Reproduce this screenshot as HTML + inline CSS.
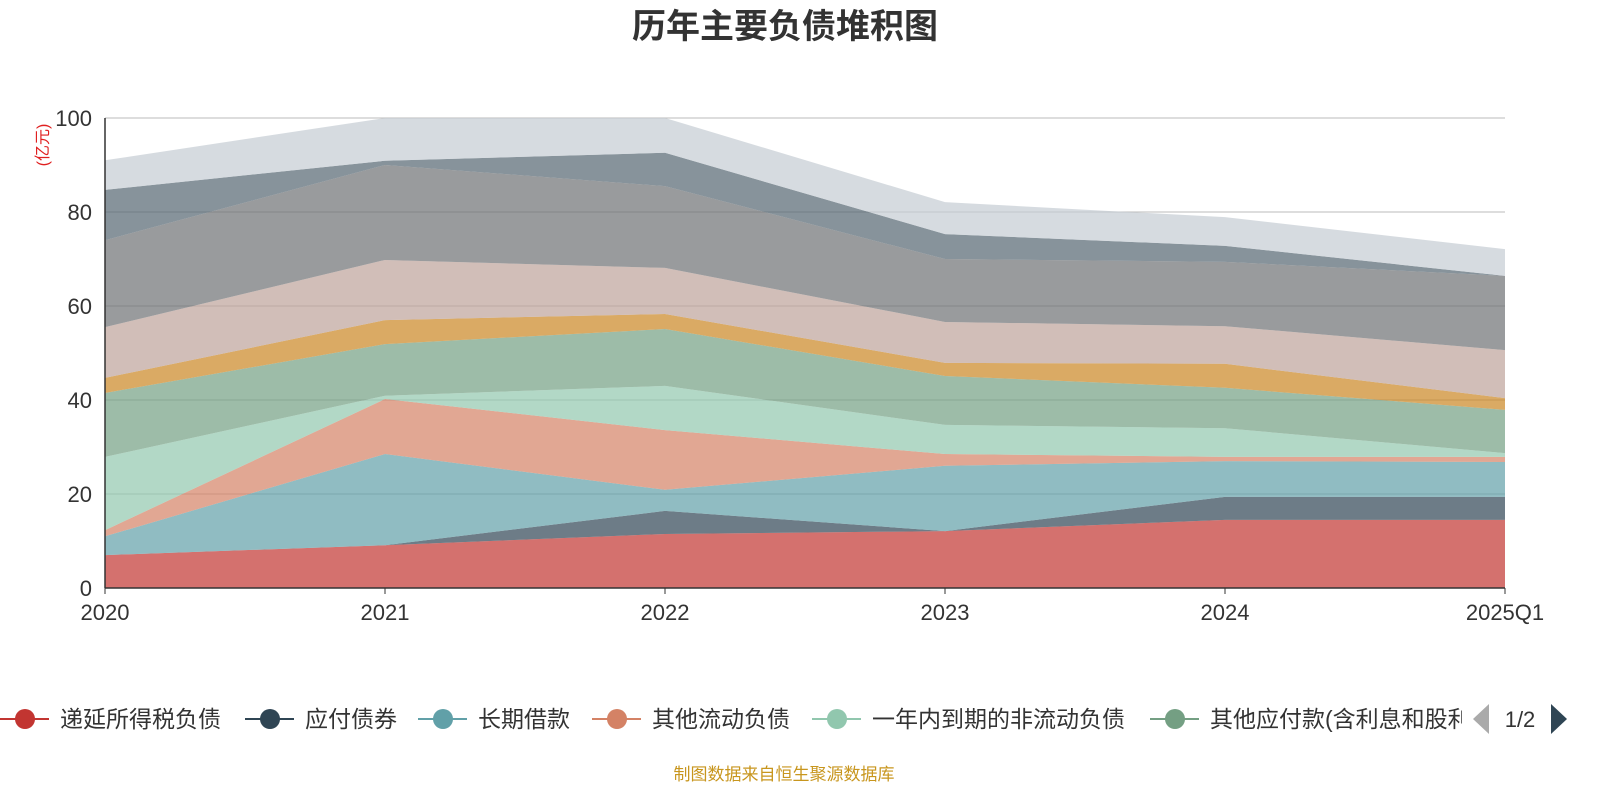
<!DOCTYPE html>
<html><head><meta charset="utf-8"><style>
body{margin:0;background:#fff;width:1600px;height:800px;overflow:hidden;font-family:"Liberation Sans","Noto Sans CJK SC",sans-serif}
</style></head><body>
<svg id="c" width="1600" height="800" xmlns="http://www.w3.org/2000/svg">
<defs><clipPath id="lc"><rect x="0" y="690" width="1462" height="60"/></clipPath></defs>
<text x="785" y="38" text-anchor="middle" font-size="34" font-weight="bold" fill="#333" font-family="Liberation Sans,Noto Sans CJK SC,sans-serif">历年主要负债堆积图</text>
<text transform="translate(48,145) rotate(-90)" text-anchor="middle" font-size="16" fill="#e02020" font-family="Liberation Sans,Noto Sans CJK SC,sans-serif">(亿元)</text>
<g id="grid"></g><g id="areas"></g><g id="axes"></g><g id="legend"></g>
<text x="784" y="780" text-anchor="middle" font-size="17" fill="#c8961e" font-family="Liberation Sans,Noto Sans CJK SC,sans-serif">制图数据来自恒生聚源数据库</text>
</svg>
<script>
const categories=["2020","2021","2022","2023","2024","2025Q1"];
const yTicks=[0,20,40,60,80,100];
const seriesNames=["递延所得税负债","应付债券","长期借款","其他流动负债","一年内到期的非流动负债","其他应付款(含利息和股利)","应付票据","应付账款","短期借款","租赁负债","其他非流动负债"];
const s0=[7.0,9.1,11.5,12.1,14.5,14.5];
const s1=[0,0,4.9,0,4.9,4.9];
const s2=[4.0,19.4,4.5,13.9,7.6,7.4];
const s3=[1.3,11.7,12.7,2.5,0.9,1.1];
const s4=[15.6,0.7,9.4,6.2,6.1,0.8];
const s5=[13.6,11.0,12.1,10.4,8.6,9.2];
const s6=[3.2,5.1,3.2,2.8,5.1,2.5];
const s7=[10.8,12.8,9.8,8.7,8.0,10.2];
const s8=[18.5,20.2,17.4,13.4,13.7,15.8];
const s9=[10.7,0.9,7.1,5.3,3.4,0];
const s10=[6.3,9.1,7.4,6.8,6.1,5.7];
const series=[s0,s1,s2,s3,s4,s5,s6,s7,s8,s9,s10];
const colors=["#c23531","#2f4554","#61a0a8","#d48265","#91c7ae","#749f83","#ca8622","#bda29a","#6e7074","#546570","#c4ccd3"];
const NS="http://www.w3.org/2000/svg";
const X=i=>105+i*(1400/(categories.length-1));
const Y=v=>588-v*4.7;
function mk(t,a,p){const e=document.createElementNS(NS,t);for(const k in a)e.setAttribute(k,a[k]);p.appendChild(e);return e;}
const grid=document.getElementById('grid'),areas=document.getElementById('areas'),axes=document.getElementById('axes'),leg=document.getElementById('legend');
yTicks.forEach(t=>{
 if(t>0){const l=mk('line',{x1:105,x2:1505,y1:Y(t),y2:Y(t),stroke:'#bbb','stroke-width':1},grid);
 
 }
 const tx=mk('text',{x:92,y:Y(t)+8,'text-anchor':'end','font-size':22,fill:'#333'},axes);tx.textContent=t;
 
 
});
let cum=categories.map(()=>0);
series.forEach((s,k)=>{
 const lo=cum.slice();cum=cum.map((c,i)=>c+s[i]);
 let d='M'+cum.map((v,i)=>X(i)+','+Y(v)).join('L');
 for(let i=lo.length-1;i>=0;i--)d+='L'+X(i)+','+Y(lo[i]);
 const p=mk('path',{d:d+'Z',fill:colors[k],'fill-opacity':0.7,stroke:'none'},areas);
 
 
});
const ax=mk('line',{x1:105,x2:1505,y1:588,y2:588,stroke:'#333','stroke-width':1.5},axes);


const ay=mk('line',{x1:105,x2:105,y1:118,y2:588,stroke:'#333','stroke-width':1.5},axes);


categories.forEach((c,i)=>{
 const tk=mk('line',{x1:X(i),x2:X(i),y1:588,y2:594,stroke:'#333'},axes);
 
 
 const t=mk('text',{x:X(i),y:620,'text-anchor':'middle','font-size':22,fill:'#333'},axes);t.textContent=c;
 
 
});
const legX=[0,245,418,592,812,1150];
legX.forEach((lx,k)=>{
 const g=mk('g',{'clip-path':'url(#lc)'},leg);
 
 
 mk('line',{x1:lx,x2:lx+49,y1:719,y2:719,stroke:colors[k],'stroke-width':2},g);
 mk('circle',{cx:lx+25,cy:719,r:10,fill:colors[k]},g);
 const t=mk('text',{x:lx+60,y:727,'font-size':23,fill:'#333'},g);t.textContent=seriesNames[k];
});
const pl=mk('path',{d:'M1489,704 L1473,719 L1489,734Z',fill:'#aaa'},leg);


const pt=mk('text',{x:1520,y:727,'text-anchor':'middle','font-size':22,fill:'#333'},leg);pt.textContent='1/2';


const pn=mk('path',{d:'M1551,704 L1567,719 L1551,734Z',fill:'#2f4554'},leg);


</script>
</body></html>
